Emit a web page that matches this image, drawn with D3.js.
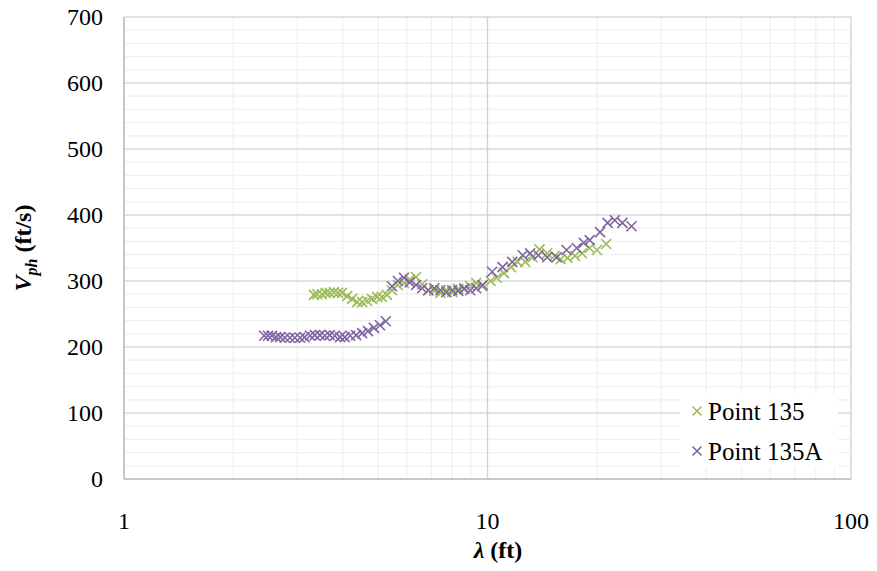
<!DOCTYPE html>
<html><head><meta charset="utf-8">
<script src="https://cdn.jsdelivr.net/npm/d3@7"></script>
<style>body{margin:0;background:#fff}</style>
</head><body><svg id="c" width="877" height="571" style="font-family:'Liberation Serif','DejaVu Serif',serif"></svg>
<script>
const seriesNames = ["Point 135", "Point 135A"];
const colors = ["#9bbb59", "#8064a2"];
const yTicks = [0,100,200,300,400,500,600,700];
const xTicks = [1,10,100];
// Point 135: wavelength (ft), phase velocity (ft/s)
const lam135 = [3.33,3.40,3.50,3.59,3.68,3.78,3.88,3.98,4.11,4.24,4.38,4.52,4.66,4.81,4.97,5.12,5.29,5.46,5.67,5.89,6.11,6.36,6.61,6.87,7.14,7.42,7.70,8.00,8.31,8.63,8.96,9.31,9.66,10.2,10.6,11.1,11.6,12.1,12.7,13.3,13.9,14.6,15.3,15.9,16.6,17.4,18.2,19.1,20.0,21.2];
const v135 = [279,280,280,282,282,283,282,282,277,273,268,268,270,273,276,276,279,286,294,297,302,306,295,286,285,282,286,283,288,289,292,297,292,300,305,312,321,329,329,336,348,342,338,333,335,338,342,350,347,356];
// Point 135A
const lam135A = [2.43,2.49,2.55,2.62,2.69,2.77,2.86,2.95,3.05,3.14,3.25,3.35,3.46,3.57,3.68,3.80,3.93,4.05,4.19,4.35,4.52,4.69,4.87,5.06,5.25,
  5.46,5.67,5.89,6.11,6.36,6.61,6.87,7.14,7.42,7.70,8.00,8.31,8.63,8.96,9.31,9.70,10.3,11.0,11.7,12.5,13.1,13.8,14.6,15.5,16.5,17.6,18.4,19.1,20.4,21.4,22.4,23.5,24.9];
const v135A = [217,217,217,215,215,214,214,214,214,215,217,218,218,217,218,217,215,215,217,218,221,224,229,233,239,
  292,300,305,298,294,289,286,289,286,283,286,285,288,286,289,294,314,321,329,339,342,339,336,336,347,350,358,362,374,388,392,388,383];

const FF = "'Liberation Serif','DejaVu Serif',serif";
const svg = d3.select("#c");
const L=124,R=851,T=17,B=479;
const x = d3.scaleLog().domain([1,100]).range([L,R]);
const y = d3.scaleLinear().domain([0,700]).range([B,T]);

const g = svg.append("g");
const minorY = d3.range(0,701,20).filter(v=>v%100!==0);
g.selectAll(".my").data(minorY).join("line").attr("x1",L).attr("x2",R).attr("y1",d=>y(d)).attr("y2",d=>y(d)).attr("stroke","#f0f0f0").attr("stroke-width",1.3);
const minorX = [];
[1,10].forEach(d=>{for(let k=2;k<=9;k++) minorX.push(d*k);});
g.selectAll(".mx").data(minorX).join("line").attr("y1",T).attr("y2",B).attr("x1",d=>x(d)).attr("x2",d=>x(d)).attr("stroke","#f0f0f0").attr("stroke-width",1.3);
g.selectAll(".My").data(yTicks).join("line").attr("x1",L).attr("x2",R).attr("y1",d=>y(d)).attr("y2",d=>y(d)).attr("stroke","#d9d9d9").attr("stroke-width",1.3);
g.selectAll(".Mx").data(xTicks).join("line").attr("y1",T).attr("y2",B).attr("x1",d=>x(d)).attr("x2",d=>x(d)).attr("stroke","#d0d0d0").attr("stroke-width",1.3);
g.append("line").attr("x1",L).attr("x2",L).attr("y1",T).attr("y2",B).attr("stroke","#bfbfbf").attr("stroke-width",1.5);
g.append("line").attr("x1",L).attr("x2",R).attr("y1",B).attr("y2",B).attr("stroke","#bfbfbf").attr("stroke-width",1.5);

svg.selectAll(".yl").data(yTicks).join("text").attr("font-family",FF).attr("x",103).attr("y",d=>y(d)).attr("dy","0.35em").attr("text-anchor","end").attr("font-size",24).attr("fill","#000").text(d=>d);
svg.selectAll(".xl").data(xTicks).join("text").attr("font-family",FF).attr("x",d=>x(d)).attr("y",529).attr("text-anchor","middle").attr("font-size",24).attr("fill","#000").text(d=>d);

const xt = svg.append("text").attr("font-family",FF).attr("x",498).attr("y",558).attr("text-anchor","middle").attr("font-size",24).attr("font-weight","bold");
xt.append("tspan").attr("font-style","italic").text("λ");
xt.append("tspan").text(" (ft)");
const yt = svg.append("text").attr("font-family",FF).attr("transform","translate(31,248) rotate(-90)").attr("text-anchor","middle").attr("font-size",24).attr("font-weight","bold");
yt.append("tspan").attr("font-style","italic").text("V");
yt.append("tspan").attr("font-style","italic").attr("font-size",16).attr("dy",6).text("ph");
yt.append("tspan").attr("dy",-6).text(" (ft/s)");

function cross(sel, color, s){
  sel.append("path").attr("d",`M${-s},${-s}L${s},${s}M${-s},${s}L${s},${-s}`).attr("stroke",color).attr("stroke-width",1.6).attr("fill","none");
}
const data = [d3.zip(lam135,v135), d3.zip(lam135A,v135A)];
data.forEach((ds,i)=>{
  const pts = svg.append("g").selectAll("g").data(ds).join("g").attr("transform",d=>`translate(${x(d[0])},${y(d[1])})`);
  pts.each(function(){cross(d3.select(this),colors[i],5);});
});

const lg = svg.append("g");
lg.append("rect").attr("x",680).attr("y",393).attr("width",158).attr("height",75).attr("fill","#fff");
seriesNames.forEach((n,i)=>{
  const yy = 411 + i*40;
  const m = lg.append("g").attr("transform",`translate(697,${yy})`);
  cross(m, colors[i], 4.5);
  lg.append("text").attr("font-family",FF).attr("x",708).attr("y",yy).attr("dy","0.35em").attr("font-size",25).text(n);
});
</script></body></html>
